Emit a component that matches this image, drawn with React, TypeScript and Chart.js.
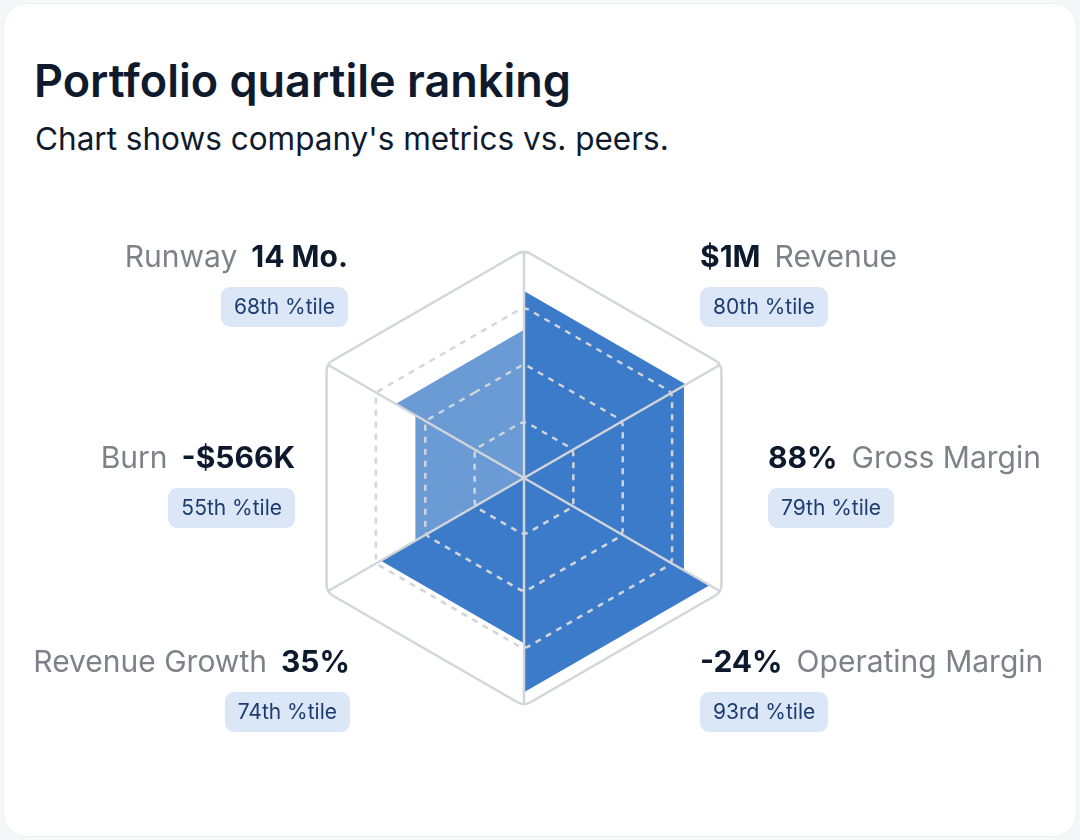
import React, { useEffect, useRef } from "react";
import { Chart, registerables } from "chart.js";

Chart.register(...registerables);

// ---- data ----
const METRICS = ["Revenue", "Gross Margin", "Operating Margin", "Revenue Growth", "Burn", "Runway"];
const METRIC_VALUES = ["$1M", "88%", "-24%", "35%", "-$566K", "14 Mo."];
const PERCENTILE_LABELS = ["80th", "79th", "93rd", "74th", "55th", "68th"];
// wedge radius as drawn (0-100 scale)
const WEDGE_SCORES = [82, 81, 94, 72.5, 55, 65];
const RING_VALUES = [25, 50, 75, 100];

// ---- styles / layout ----
const DARK_BLUE = "#3b7bc9";
const LIGHT_BLUE = "#6b9bd5";
const WEDGE_COLORS = [DARK_BLUE, DARK_BLUE, DARK_BLUE, DARK_BLUE, LIGHT_BLUE, LIGHT_BLUE];
const GRID_COLOR = "#d2d5da";
const FONT = "Inter, 'Noto Sans', sans-serif";

type LabelLayout = { side: "left" | "right"; x: number; top: number };
// x = left edge for right-side labels, right edge for left-side labels (page px)
const LABEL_LAYOUT: LabelLayout[] = [
  { side: "right", x: 700, top: 238 },
  { side: "right", x: 768, top: 439 },
  { side: "right", x: 700, top: 643 },
  { side: "left", x: 350, top: 643 },
  { side: "left", x: 295, top: 439 },
  { side: "left", x: 348, top: 238 },
];

const CANVAS_SIZE = 520;
const CANVAS_LEFT = 264;
const CANVAS_TOP = 218;

function roundedPoly(ctx: CanvasRenderingContext2D, pts: { x: number; y: number }[], rc: number) {
  const n = pts.length;
  ctx.beginPath();
  const m = { x: (pts[n - 1].x + pts[0].x) / 2, y: (pts[n - 1].y + pts[0].y) / 2 };
  ctx.moveTo(m.x, m.y);
  for (let i = 0; i < n; i++) {
    const p = pts[i];
    const q = pts[(i + 1) % n];
    ctx.arcTo(p.x, p.y, q.x, q.y, rc);
  }
  ctx.closePath();
}

const gridPlugin = {
  id: "roundedGrid",
  afterDatasetsDraw(chart: any) {
    const scale = chart.scales.r;
    const ctx: CanvasRenderingContext2D = chart.ctx;
    const n = chart.data.labels.length;
    ctx.save();
    ctx.strokeStyle = GRID_COLOR;
    ctx.lineCap = "butt";
    ctx.lineJoin = "round";
    RING_VALUES.forEach((v) => {
      const pts = [];
      for (let i = 0; i < n; i++) pts.push(scale.getPointPositionForValue(i, v));
      const outer = v === RING_VALUES[RING_VALUES.length - 1];
      const rc = outer ? 13 : 9;
      ctx.lineWidth = 2.5;
      ctx.setLineDash(outer ? [] : [6, 6]);
      roundedPoly(ctx, pts, rc);
      ctx.stroke();
    });
    // spokes
    ctx.setLineDash([]);
    ctx.lineWidth = 2.5;
    const max = RING_VALUES[RING_VALUES.length - 1];
    const R = scale.getDistanceFromCenterForValue(max);
    const endVal = (max * (R - 13 * 0.1547)) / R;
    for (let i = 0; i < n; i++) {
      const p = scale.getPointPositionForValue(i, endVal);
      ctx.beginPath();
      ctx.moveTo(scale.xCenter, scale.yCenter);
      ctx.lineTo(p.x, p.y);
      ctx.stroke();
    }
    ctx.restore();
  },
};

export default function App() {
  const canvasRef = useRef<HTMLCanvasElement | null>(null);

  useEffect(() => {
    if (!canvasRef.current) return;
    const n = METRICS.length;
    const chart = new Chart(canvasRef.current, {
      type: "radar",
      data: {
        labels: METRICS,
        datasets: METRICS.map((m, i) => ({
          label: m,
          data: METRICS.map((_, j) => (j === i || j === (i + 1) % n ? WEDGE_SCORES[i] : 0)),
          backgroundColor: WEDGE_COLORS[i],
          borderColor: "transparent",
          borderWidth: 0,
          pointRadius: 0,
          pointHoverRadius: 0,
          fill: true,
          tension: 0,
        })),
      },
      options: {
        responsive: false,
        animation: false,
        layout: { padding: 32 },
        plugins: { legend: { display: false }, tooltip: { enabled: false } },
        scales: {
          r: {
            min: 0,
            max: 100,
            ticks: { display: false, stepSize: 25 },
            grid: { display: false },
            angleLines: { display: false },
            pointLabels: { display: false },
          },
        },
      },
      plugins: [gridPlugin],
    });
    return () => chart.destroy();
  }, []);

  return (
    <div
      style={{
        position: "absolute",
        left: 0,
        top: 0,
        width: 1080,
        height: 840,
        background: "#f6f7f9",
        fontFamily: FONT,
        overflow: "hidden",
      }}
    >
      <div
        style={{
          position: "absolute",
          left: 3,
          top: 3,
          width: 1072,
          height: 832,
          background: "#ffffff",
          border: "1px solid #eceff3",
          borderRadius: 24,
        }}
      />
      <div
        style={{
          position: "absolute",
          left: 34,
          top: 54,
          fontSize: 45,
          lineHeight: "54px",
          fontWeight: 600,
          color: "#0f1b2d",
          whiteSpace: "nowrap",
        }}
      >
        Portfolio quartile ranking
      </div>
      <div
        style={{
          position: "absolute",
          left: 35,
          top: 120,
          fontSize: 31.5,
          lineHeight: "38px",
          fontWeight: 400,
          color: "#0f1b2d",
          whiteSpace: "nowrap",
        }}
      >
        Chart shows company's metrics vs. peers.
      </div>
      <canvas
        ref={canvasRef}
        width={CANVAS_SIZE}
        height={CANVAS_SIZE}
        style={{
          position: "absolute",
          left: CANVAS_LEFT,
          top: CANVAS_TOP,
          width: CANVAS_SIZE,
          height: CANVAS_SIZE,
        }}
      />
      {METRICS.map((m, i) => {
        const lay = LABEL_LAYOUT[i];
        const isRight = lay.side === "right";
        const value = (
          <span key="v" style={{ fontWeight: 700, color: "#0d1a2d" }}>
            {METRIC_VALUES[i]}
          </span>
        );
        const name = (
          <span key="n" style={{ fontWeight: 400, color: "#7d8289" }}>
            {m}
          </span>
        );
        return (
          <div
            key={m}
            style={{
              position: "absolute",
              top: lay.top,
              ...(isRight ? { left: lay.x } : { right: 1080 - lay.x }),
              display: "flex",
              flexDirection: "column",
              alignItems: isRight ? "flex-start" : "flex-end",
              whiteSpace: "nowrap",
            }}
          >
            <div style={{ display: "flex", gap: 14, fontSize: 30, lineHeight: "36px" }}>
              {isRight ? [value, name] : [name, value]}
            </div>
            <div
              style={{
                marginTop: 13,
                height: 40,
                lineHeight: "40px",
                padding: "0 13px",
                borderRadius: 9,
                background: "#dbe6f6",
                color: "#1d3d70",
                fontSize: 21,
                fontWeight: 400,
              }}
            >
              {PERCENTILE_LABELS[i]} %tile
            </div>
          </div>
        );
      })}
    </div>
  );
}
